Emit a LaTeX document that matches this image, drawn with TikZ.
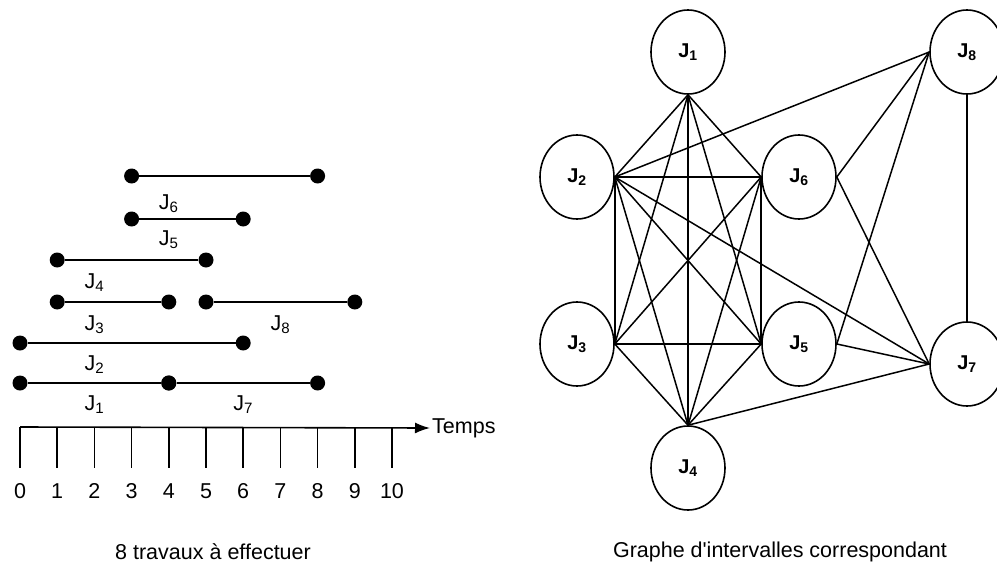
\documentclass[tikz,border=0pt]{standalone}
\usepackage{fontspec}
\setmainfont{Liberation Sans}
\usetikzlibrary{shapes.geometric,arrows.meta}
\tikzstyle{job}=[ellipse,draw,line width=1.6pt,minimum width=74pt,minimum height=84pt,inner sep=0pt,font=\bfseries\fontsize{20}{22}\selectfont]
\tikzstyle{endpt}=[circle,fill=black,inner sep=0pt,minimum size=15pt]
\tikzstyle{lbl}=[font=\fontsize{21.5}{24}\selectfont]

\begin{document}
\begin{tikzpicture}[x=1pt,y=-1pt]
    \useasboundingbox (0,0) rectangle (997,568);
    \clip (0,0) rectangle (997,568);

    % Intervals on the time axis (job/start/end/height)
    \foreach \n/\a/\b/\y in {6/3/8/176, 5/3/6/219, 4/1/5/260, 3/1/4/302,
                             8/5/9/302, 2/0/6/343, 1/0/4/383, 7/4/8/383} {
        \node[endpt] (a\n) at ({20+37.2*\a},\y) {};
        \node[endpt] (b\n) at ({20+37.2*\b},\y) {};
        \draw[line width=2.8pt] (a\n) -- (b\n);
    }

    % Names of the intervals
    \foreach \n/\v/\y in {6/4/209, 5/4/245, 4/2/288, 3/2/330,
                          8/7/330, 2/2/370, 1/2/410, 7/6/410} {
        \node[lbl,anchor=base] (l\n) at ({20+37.2*\v},\y) {J\textsubscript{\n}};
    }

    % Time axis
    \coordinate (o) at (20,427);
    \node[lbl,anchor=west,inner sep=2pt] (temps) at (430,428) {Temps};
    \draw[line width=1.6pt,-{Latex[length=15pt,width=11pt]}] (o) -- (temps.west);
    \foreach \i in {0,...,10} {
        \coordinate (t\i) at ({20+37.2*\i},427);
        \draw[line width=1.6pt] (t\i) -- ++(0,41);
        \node[lbl] (n\i) at ({20+37.2*\i},491) {\i};
    }
    \node[lbl] (cap1) at (213,552) {8 travaux à effectuer};

    % Interval graph
    \node[job] (J1) at (688,52) {J\textsubscript{1}};
    \node[job] (J2) at (577,177) {J\textsubscript{2}};
    \node[job] (J6) at (799,177) {J\textsubscript{6}};
    \node[job] (J3) at (577,344) {J\textsubscript{3}};
    \node[job] (J5) at (799,344) {J\textsubscript{5}};
    \node[job] (J4) at (688,468) {J\textsubscript{4}};
    \node[job] (J8) at (967,52) {J\textsubscript{8}};
    \node[job] (J7) at (967,364) {J\textsubscript{7}};

    % Edges between overlapping jobs
    \begin{scope}[line width=1.5pt]
    \foreach \t in {J2.east,J3.east,J4.north,J5.west,J6.west}
        \draw (J1.south) -- (\t);
    \foreach \t in {J6.west,J3.east,J4.north,J5.west,J8.west,J7.west}
        \draw (J2.east) -- (\t);
    \foreach \t in {J3.east,J4.north,J5.west}
        \draw (J6.west) -- (\t);
    \draw (J6.east) -- (J8.west);
    \draw (J6.east) -- (J7.west);
    \draw (J3.east) -- (J4.north);
    \draw (J3.east) -- (J5.west);
    \draw (J5.west) -- (J4.north);
    \draw (J5.east) -- (J8.west);
    \draw (J5.east) -- (J7.west);
    \draw (J4.north) -- (J7.west);
    \draw (J8.south) -- (J7.north);
    \end{scope}

    \node[lbl] (cap2) at (780,552) {Graphe d\textquotesingle intervalles correspondant};
\end{tikzpicture}
\end{document}
